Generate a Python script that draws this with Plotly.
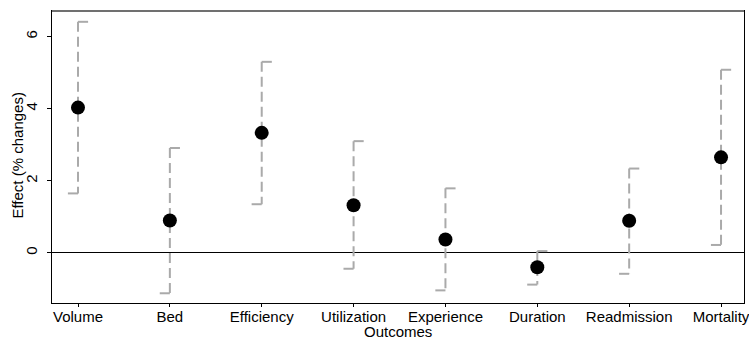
import plotly.graph_objects as go

categories = ["Volume", "Bed", "Efficiency", "Utilization", "Experience", "Duration", "Readmission", "Mortality"]
effect = [4.03, 0.90, 3.33, 1.32, 0.37, -0.40, 0.89, 2.65]
ci_upper = [6.41, 2.91, 5.30, 3.10, 1.79, 0.05, 2.34, 5.08]
ci_lower = [1.65, -1.12, 1.35, -0.44, -1.04, -0.88, -0.58, 0.22]
y_ticks = [0, 2, 4, 6]

pos = list(range(len(categories)))
cap = 0.11

# dashed vertical CI segments
vx, vy = [], []
for p, lo, hi in zip(pos, ci_lower, ci_upper):
    vx += [p, p, None]
    vy += [hi, lo, None]

# half caps: upper extends right, lower extends left
cx, cy = [], []
for p, lo, hi in zip(pos, ci_lower, ci_upper):
    cx += [p, p + cap, None, p - cap, p, None]
    cy += [hi, hi, None, lo, lo, None]

fig = go.Figure()
fig.add_trace(go.Scatter(x=vx, y=vy, mode="lines",
                         line=dict(color="#aaaaaa", width=2, dash="10px,5px"),
                         hoverinfo="skip", showlegend=False))
fig.add_trace(go.Scatter(x=cx, y=cy, mode="lines",
                         line=dict(color="#aaaaaa", width=2),
                         hoverinfo="skip", showlegend=False))
fig.add_trace(go.Scatter(x=pos, y=effect, mode="markers",
                         marker=dict(color="black", size=14),
                         showlegend=False))

font = dict(family="Liberation Sans, Arial, sans-serif", size=15, color="black")

fig.update_layout(
    width=749, height=342,
    margin=dict(l=52, r=5, t=11, b=39),
    paper_bgcolor="white", plot_bgcolor="white",
    font=font,
    xaxis=dict(range=[-0.283, 7.25], tickmode="array", tickvals=pos, ticktext=categories,
               showgrid=False, zeroline=False, showline=True, linecolor="black", linewidth=1,
               mirror=True, ticks="outside", ticklen=3, tickcolor="black", automargin=False,
               ticklabeloverflow="allow", ticklabelstandoff=-3, tickfont=font),
    yaxis=dict(range=[-1.39, 6.71], tickmode="array", tickvals=y_ticks,
               showgrid=False, zeroline=True, zerolinecolor="black", zerolinewidth=1,
               showline=True, linecolor="black", linewidth=1, mirror=True, automargin=False,
               ticks="outside", ticklen=4, tickcolor="black", tickangle=-90,
               ticklabelstandoff=4, tickfont=font),
    shapes=[dict(type="line", xref="paper", yref="paper", x0=0, x1=1, y0=1, y1=1,
                 line=dict(color="#707070", width=2))],
    annotations=[
        dict(text="Outcomes", xref="paper", yref="paper", x=0.5, y=(303 - 342) / 292,
             xanchor="center", yanchor="bottom", showarrow=False, font=font),
        dict(text="Effect (% changes)", xref="paper", yref="paper", x=(18 - 52) / 692,
             y=0.505, xanchor="center", yanchor="middle", textangle=-90,
             showarrow=False, font=font),
    ],
)

fig.write_html("out.html")
